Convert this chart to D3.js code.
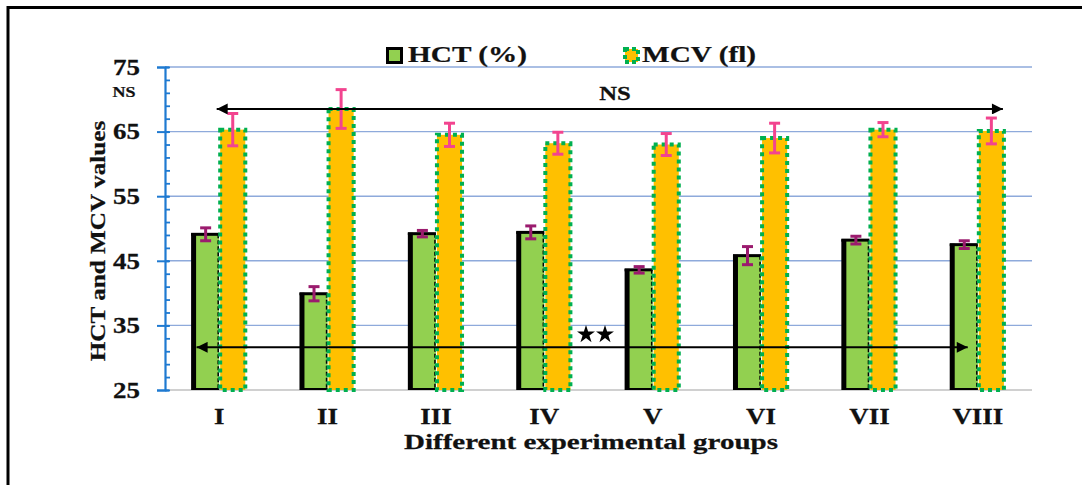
<!DOCTYPE html>
<html>
<head>
<meta charset="utf-8">
<script src="https://cdn.jsdelivr.net/npm/d3@7"></script>
<style>
  html, body { margin: 0; padding: 0; background: #fff; }
  svg { display: block; }
  text { font-family: "Liberation Serif", "Times New Roman", serif; font-weight: bold; fill: #111; stroke: #111; stroke-width: 0.25px; }
</style>
</head>
<body>
<svg id="chart" width="1082" height="485"></svg>
<script>
// Experimental groups and their haematological values
const groups = ["I", "II", "III", "IV", "V", "VI", "VII", "VIII"];
const hct = [49.1, 39.9, 49.2, 49.4, 43.6, 45.8, 48.2, 47.5];
const hctErr = [1.0, 1.1, 0.5, 1.0, 0.5, 1.4, 0.6, 0.6];
const mcv = [65.3, 68.5, 64.5, 63.2, 63.0, 64.0, 65.3, 65.1];
const mcvErr = [2.5, 3.0, 1.8, 1.7, 1.7, 2.3, 1.1, 2.0];
const yTicks = [25, 35, 45, 55, 65, 75];
const yMinorTicks = d3.range(25, 75.01, 2);
const seriesNames = ["HCT (%)", "MCV (fl)"];

const svg = d3.select("#chart");
const SX = 1.17; // glyphs are set wide

function widen(sel, sx) {
  sel.each(function () {
    const t = d3.select(this);
    const x = +t.attr("x") || 0, y = +t.attr("y") || 0;
    const rot = t.attr("data-rot");
    t.attr("x", 0).attr("y", 0)
     .attr("transform", `translate(${x},${y})` + (rot ? ` rotate(${rot})` : "") + ` scale(${sx},1)`);
  });
}

// outer frame
svg.append("rect").attr("x", 8).attr("y", 7.5).attr("width", 1100).attr("height", 520)
  .attr("fill", "none").attr("stroke", "#000").attr("stroke-width", 3);

const plotLeft = 165, plotRight = 1032, plotTop = 67, plotBottom = 390;

const y = d3.scaleLinear().domain([25, 75]).range([plotBottom, plotTop]);
const x = d3.scaleBand().domain(groups).range([plotLeft, plotRight]).paddingInner(0.5).paddingOuter(0.25);
const xs = d3.scaleBand().domain(["hct", "mcv"]).range([0, x.bandwidth()]);

// grid lines
svg.append("g").selectAll("line").data(yTicks).join("line")
  .attr("x1", plotLeft).attr("x2", plotRight)
  .attr("y1", d => y(d)).attr("y2", d => y(d))
  .attr("stroke", d => d === 25 ? "#d0d0d0" : "#8eaadb")
  .attr("stroke-width", d => d === 25 ? 2 : 1.4);

// HCT bars
const gH = svg.append("g");
groups.forEach((g, i) => {
  const x0 = x(g) + xs("hct"), w = xs.bandwidth();
  const yt = y(hct[i]);
  gH.append("rect").attr("x", x0).attr("y", yt).attr("width", w).attr("height", plotBottom - yt)
    .attr("fill", "#92d050");
  gH.append("line").attr("x1", x0 + 1.5).attr("x2", x0 + 1.5).attr("y1", yt - 1).attr("y2", plotBottom)
    .attr("stroke", "#000").attr("stroke-width", 5);
  gH.append("line").attr("x1", x0 - 1).attr("x2", x0 + w).attr("y1", yt).attr("y2", yt)
    .attr("stroke", "#000").attr("stroke-width", 3);
  gH.append("line").attr("x1", x0).attr("x2", x0 + w).attr("y1", plotBottom - 1).attr("y2", plotBottom - 1)
    .attr("stroke", "#000").attr("stroke-width", 2);
  gH.append("line").attr("x1", x0 + w - 1).attr("x2", x0 + w - 1).attr("y1", yt).attr("y2", plotBottom)
    .attr("stroke", "#000").attr("stroke-width", 1.5).attr("stroke-dasharray", "4,2");
});

// MCV bars
svg.append("g").selectAll("rect").data(groups).join("rect")
  .attr("x", g => x(g) + xs("mcv") + 1).attr("y", (g, i) => y(mcv[i]))
  .attr("width", xs.bandwidth() - 2).attr("height", (g, i) => plotBottom - y(mcv[i]))
  .attr("fill", "#ffc000").attr("stroke", "#00b050").attr("stroke-width", 4)
  .attr("stroke-dasharray", "4,4");

// error bars
function errorBars(vals, errs, key, color) {
  const g = svg.append("g").attr("stroke", color).attr("stroke-width", 3);
  groups.forEach((grp, i) => {
    const cx = x(grp) + xs(key) + xs.bandwidth() / 2;
    const y1 = y(vals[i] + errs[i]), y2 = y(vals[i] - errs[i]);
    g.append("line").attr("x1", cx).attr("x2", cx).attr("y1", y1).attr("y2", y2);
    g.append("line").attr("x1", cx - 5.5).attr("x2", cx + 5.5).attr("y1", y1).attr("y2", y1);
    g.append("line").attr("x1", cx - 5.5).attr("x2", cx + 5.5).attr("y1", y2).attr("y2", y2);
  });
}
errorBars(hct, hctErr, "hct", "#9b1b6e");
errorBars(mcv, mcvErr, "mcv", "#f2448f");

// y axis
const axisColor = "#1f7ad1";
const yAxis = svg.append("g").attr("transform", `translate(${plotLeft},0)`)
  .call(d3.axisLeft(y).tickValues(yTicks).tickSize(8).tickPadding(17));
yAxis.select(".domain").attr("stroke", axisColor).attr("stroke-width", 2.2);
yAxis.selectAll(".tick line").attr("stroke", axisColor).attr("stroke-width", 2).attr("x2", -8).attr("x1", 4);
yAxis.selectAll(".tick text").attr("font-size", 23).attr("font-family", null).call(widen, SX);
svg.append("g").attr("transform", `translate(${plotLeft},0)`)
  .call(d3.axisRight(y).tickValues(yMinorTicks).tickSize(5).tickFormat(""))
  .call(g => g.select(".domain").remove())
  .selectAll(".tick line").attr("stroke", axisColor).attr("stroke-width", 1.8);

// x axis
const xAxis = svg.append("g").attr("transform", `translate(0,${plotBottom})`)
  .call(d3.axisBottom(x).tickSize(0).tickPadding(18));
xAxis.select(".domain").remove();
xAxis.selectAll(".tick text").attr("font-size", 23).attr("font-family", null).call(widen, SX);

// axis titles
svg.append("text").attr("x", 591).attr("y", 449).attr("text-anchor", "middle")
  .attr("font-size", 21).text("Different experimental groups").call(widen, 1.38);
svg.append("text").attr("x", 105).attr("y", 241).attr("data-rot", -90).attr("text-anchor", "middle")
  .attr("font-size", 21).text("HCT and MCV values").call(widen, 1.2);

// legend
svg.append("rect").attr("x", 387.5).attr("y", 48.5).attr("width", 14).attr("height", 14)
  .attr("fill", "#92d050").attr("stroke", "#000").attr("stroke-width", 3);
svg.append("text").attr("x", 408).attr("y", 62).attr("font-size", 24).text(seriesNames[0]).call(widen, 1.22);
svg.append("rect").attr("x", 625).attr("y", 49).attr("width", 13).attr("height", 13)
  .attr("fill", "#ffc000").attr("stroke", "#00b050").attr("stroke-width", 4).attr("stroke-dasharray", "4,3");
svg.append("text").attr("x", 642).attr("y", 62).attr("font-size", 24).text(seriesNames[1]).call(widen, 1.22);

// significance annotations
const defs = svg.append("defs");
defs.append("marker").attr("id", "head").attr("viewBox", "0 0 10 10").attr("refX", 10).attr("refY", 5)
  .attr("markerWidth", 7).attr("markerHeight", 5.5).attr("markerUnits", "strokeWidth").attr("orient", "auto-start-reverse")
  .append("path").attr("d", "M0,0L10,5L0,10Z").attr("fill", "#000");

const nsLevel = 68.5, starLevel = 31.6;
svg.append("line")
  .attr("x1", x("I") + xs.bandwidth() - 2.5).attr("x2", x("VIII") + x.bandwidth() - 2)
  .attr("y1", y(nsLevel)).attr("y2", y(nsLevel))
  .attr("stroke", "#000").attr("stroke-width", 2)
  .attr("marker-start", "url(#head)").attr("marker-end", "url(#head)");
svg.append("text").attr("x", 615).attr("y", 99.5).attr("text-anchor", "middle")
  .attr("font-size", 19).text("NS").call(widen, 1.3);
svg.append("text").attr("x", 124).attr("y", 97).attr("text-anchor", "middle")
  .attr("font-size", 15).text("NS").call(widen, 1.2);

svg.append("line")
  .attr("x1", x("I") + 4.5).attr("x2", x("VIII") + 17)
  .attr("y1", y(starLevel)).attr("y2", y(starLevel))
  .attr("stroke", "#000").attr("stroke-width", 2)
  .attr("marker-start", "url(#head)").attr("marker-end", "url(#head)");
svg.append("g").selectAll("path").data([586, 605]).join("path")
  .attr("transform", d => `translate(${d},334.5)`)
  .attr("d", d3.symbol(d3.symbolStar, 100)).attr("fill", "#000");
</script>
</body>
</html>
